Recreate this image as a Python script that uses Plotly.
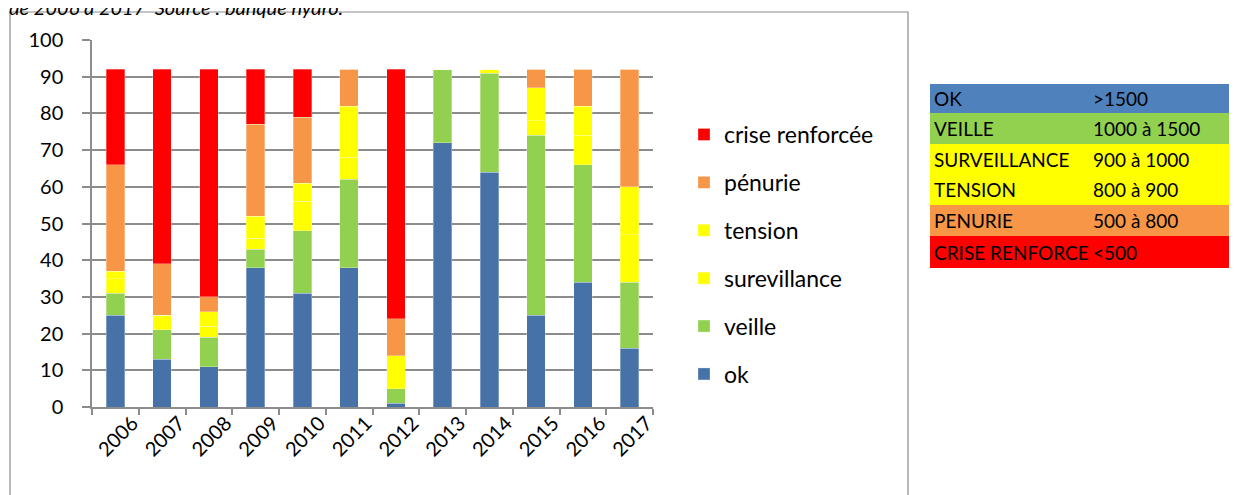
import plotly.graph_objects as go

years = ["2006", "2007", "2008", "2009", "2010", "2011", "2012", "2013", "2014", "2015", "2016", "2017"]
ok = [25, 13, 11, 38, 31, 38, 1, 72, 64, 25, 34, 16]
veille = [6, 8, 8, 5, 17, 24, 4, 20, 27, 49, 32, 18]
surevillance = [4, 4, 3, 3, 8, 6, 9, 0, 1, 4, 8, 13]
tension = [2, 0, 4, 6, 5, 14, 0, 0, 0, 9, 8, 13]
penurie = [29, 14, 4, 25, 18, 10, 10, 0, 0, 5, 10, 32]
crise = [26, 53, 62, 15, 13, 0, 68, 0, 0, 0, 0, 0]

series_names = ["ok", "veille", "surevillance", "tension", "pénurie", "crise renforcée"]
series_values = [ok, veille, surevillance, tension, penurie, crise]
series_colors = ["#4672A8", "#92D050", "#FFFF00", "#FFFF00", "#F79646", "#FF0000"]

table_labels = ["OK", "VEILLE", "SURVEILLANCE", "TENSION", "PENURIE", "CRISE RENFORCE"]
table_ranges = [">1500", "1000 à 1500", "900 à 1000", "800 à 900", "500 à 800", "<500"]
table_colors = ["#4F81BD", "#92D050", "#FFFF00", "#FFFF00", "#F79646", "#FF0000"]

W, H = 1237, 495
OFF = 8  # page offset of the figure inside the browser window
FONT = "Lato"
grey = "#8C8C8C"


def px(x):
    return (x - OFF) / W


def py(y):
    return 1 - (y - OFF) / H


fig = go.Figure()
n = len(series_names)
for i, (name, vals, col) in enumerate(zip(series_names, series_values, series_colors)):
    fig.add_trace(go.Bar(
        x=years, y=vals, name=name,
        marker=dict(color=col, line=dict(width=0.6, color="rgba(255,255,255,0.5)")),
        legendgroup=name, legendrank=n - i,
    ))

# side table (built from the table lists)
tbl_x0, tbl_x1, tbl_col2 = 930, 1250, 1093
row_edges = [84, 113, 144, 175, 205, 236, 268]
shapes = [dict(type="rect", xref="paper", yref="paper",
               x0=px(10), x1=px(908), y0=-0.1, y1=py(12),
               line=dict(color=grey, width=1.2), fillcolor="rgba(0,0,0,0)", layer="below")]
annotations = [dict(text="de 2006 à 2017  Source : banque hydro.", xref="paper", yref="paper",
                    x=px(7), y=py(21), xanchor="left", yanchor="bottom", showarrow=False,
                    font=dict(size=20, family=FONT, color="black", style="italic"))]
for i, (lab, rng, col) in enumerate(zip(table_labels, table_ranges, table_colors)):
    top, bot = row_edges[i], row_edges[i + 1]
    shapes.append(dict(type="rect", xref="paper", yref="paper",
                       x0=px(tbl_x0), x1=px(tbl_x1), y0=py(bot), y1=py(top),
                       line=dict(width=0), fillcolor=col, layer="below"))
    ymid = py((top + bot) / 2)
    annotations.append(dict(text=lab, xref="paper", yref="paper", x=px(932), y=ymid,
                            xanchor="left", yanchor="middle", showarrow=False,
                            font=dict(size=19, family=FONT, color="black")))
    annotations.append(dict(text=rng, xref="paper", yref="paper", x=px(tbl_col2 - 2), y=ymid,
                            xanchor="left", yanchor="middle", showarrow=False,
                            font=dict(size=19, family=FONT, color="black")))

fig.update_layout(
    width=W, height=H,
    margin=dict(l=0, r=0, t=0, b=0, autoexpand=False),
    paper_bgcolor="white", plot_bgcolor="white",
    barmode="stack", bargap=0.6,
    font=dict(family=FONT, color="black"),
    xaxis=dict(
        domain=[px(92), px(653)], type="category",
        showline=True, linecolor=grey, linewidth=1.5,
        ticks="outside", tickson="boundaries", ticklen=6, tickcolor=grey, tickwidth=1.5,
        tickangle=-45, tickfont=dict(size=20, family=FONT),
        ticklabelshift=17, ticklabelstandoff=-5,
        showgrid=False, anchor="y", automargin=False,
    ),
    yaxis=dict(
        domain=[py(407), py(40)], range=[0, 100], dtick=10,
        showline=True, linecolor=grey, linewidth=1.5,
        ticks="outside", ticklen=8, tickcolor=grey, tickwidth=1.5,
        showgrid=True, gridcolor=grey, gridwidth=1.5,
        tickfont=dict(size=20, family=FONT), ticklabelstandoff=15,
        zeroline=False, anchor="x", automargin=False,
    ),
    legend=dict(
        x=px(684), y=py(113), xanchor="left", yanchor="top",
        traceorder="grouped", tracegroupgap=15,
        font=dict(size=23, family=FONT), bgcolor="rgba(0,0,0,0)",
    ),
    shapes=shapes,
    annotations=annotations,
)

fig.write_html("out.html")
